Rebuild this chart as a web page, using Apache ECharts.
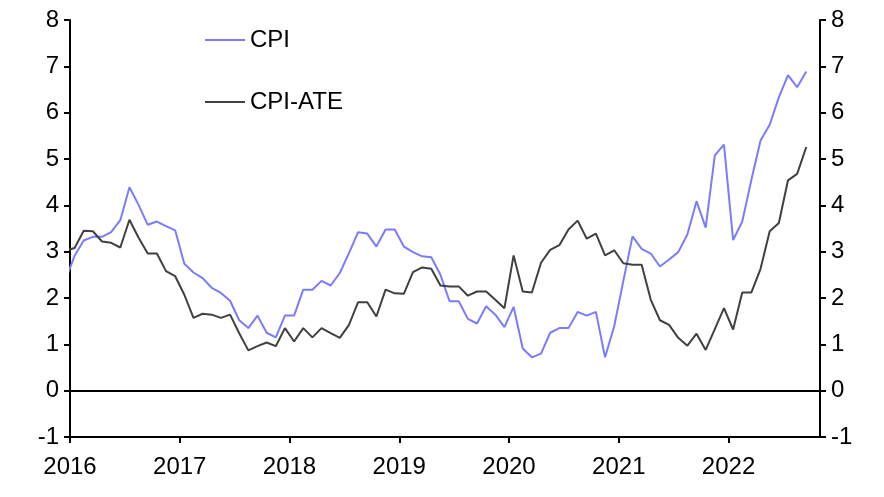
<!DOCTYPE html>
<html>
<head>
<meta charset="utf-8">
<script src="https://cdn.jsdelivr.net/npm/echarts@6/dist/echarts.min.js"></script>
<style>html,body{margin:0;padding:0;background:#fff;}#c{width:884px;height:497px;}</style>
</head>
<body>
<div id="c"></div>
<script>
// Monthly, starting Dec 2015 (clipped at the axis) through Sep 2022
const startYear = 2016;
const yearLabels = ['2016','2017','2018','2019','2020','2021','2022'];
const cpi = [
  2.39,
  2.91,3.24,3.32,3.32,3.42,3.68,4.39,4.01,3.58,3.65,3.55,3.46,
  2.74,2.55,2.43,2.22,2.11,1.94,1.52,1.35,1.62,1.25,1.15,1.62,
  1.62,2.18,2.18,2.37,2.27,2.54,2.97,3.42,3.39,3.11,3.48,3.48,
  3.11,2.99,2.90,2.88,2.50,1.93,1.93,1.55,1.45,1.82,1.64,1.37,
  1.81,0.91,0.72,0.80,1.25,1.35,1.35,1.70,1.62,1.70,0.72,1.39,
  2.37,3.33,3.06,2.96,2.68,2.83,2.99,3.37,4.09,3.52,5.08,5.31,
  3.25,3.65,4.55,5.40,5.74,6.33,6.81,6.55,6.89
];
const cpiAte = [
  3.02,
  3.08,3.45,3.44,3.22,3.19,3.09,3.69,3.30,2.96,2.96,2.58,2.47,
  2.07,1.57,1.66,1.64,1.57,1.64,1.24,0.87,0.96,1.04,0.96,1.35,
  1.06,1.35,1.15,1.35,1.24,1.14,1.42,1.91,1.91,1.60,2.18,2.10,
  2.09,2.56,2.66,2.63,2.27,2.25,2.25,2.05,2.14,2.14,1.96,1.78,
  2.92,2.14,2.12,2.76,3.04,3.14,3.48,3.67,3.28,3.39,2.92,3.03,
  2.75,2.72,2.72,1.96,1.52,1.42,1.14,0.97,1.23,0.88,1.33,1.78,
  1.32,2.12,2.12,2.63,3.44,3.62,4.54,4.68,5.26
];
const seriesNames = ['CPI','CPI-ATE'];

// x position = months since Jan 2016 start, plotted mid-month
const toPts = arr => arr.map((v, i) => [i - 1 + 0.5, v]);

const font = 'Liberation Sans, Arial, sans-serif';
const fs = 24;

const chart = echarts.init(document.getElementById('c'), null, {renderer: 'canvas'});
chart.setOption({
  animation: false,
  backgroundColor: '#fff',
  grid: {left: 70, right: 64, top: 20, bottom: 60, containLabel: false},
  legend: [
    {data: [seriesNames[0]], left: 205, top: 28, padding: 0, icon: 'rect', itemWidth: 40, itemHeight: 2, itemGap: 0,
     textStyle: {fontFamily: font, fontSize: fs, color: '#000'}, selectedMode: false},
    {data: [seriesNames[1]], left: 205, top: 90, padding: 0, icon: 'rect', itemWidth: 40, itemHeight: 2, itemGap: 0,
     textStyle: {fontFamily: font, fontSize: fs, color: '#000'}, selectedMode: false}
  ],
  xAxis: {
    type: 'value', min: 0, max: 82, interval: 12,
    axisLine: {show: true, onZero: false, lineStyle: {color: '#000', width: 2}},
    axisTick: {show: true, length: 6, inside: false, lineStyle: {color: '#000', width: 2}},
    splitLine: {show: false},
    axisLabel: {
      show: true, margin: 18, fontFamily: font, fontSize: fs, color: '#000', showMaxLabel: false,
      formatter: v => (v % 12 === 0 ? yearLabels[v / 12] || String(startYear + v / 12) : '')
    }
  },
  yAxis: [
    {type: 'value', min: -1, max: 8, interval: 1, position: 'left',
     axisLine: {show: true, lineStyle: {color: '#000', width: 2}},
     axisTick: {show: true, length: 6, lineStyle: {color: '#000', width: 2}},
     splitLine: {show: false},
     axisLabel: {margin: 11, fontFamily: font, fontSize: fs, color: '#000'}},
    {type: 'value', min: -1, max: 8, interval: 1, position: 'right',
     axisLine: {show: true, lineStyle: {color: '#000', width: 2}},
     axisTick: {show: true, length: 6, lineStyle: {color: '#000', width: 2}},
     splitLine: {show: false},
     axisLabel: {margin: 11, fontFamily: font, fontSize: fs, color: '#000'}}
  ],
  series: [
    {name: seriesNames[0], type: 'line', data: toPts(cpi), showSymbol: false, symbol: 'none', clip: true,
     lineStyle: {color: '#7b7bff', width: 2}, itemStyle: {color: '#7b7bff'}, z: 3,
     markLine: {silent: true, symbol: ['none','none'], label: {show: false},
       lineStyle: {color: '#000', width: 2, type: 'solid'}, data: [{yAxis: 0}]}},
    {name: seriesNames[1], type: 'line', data: toPts(cpiAte), showSymbol: false, symbol: 'none', clip: true,
     lineStyle: {color: '#404040', width: 2}, itemStyle: {color: '#404040'}, z: 4}
  ]
});
</script>
</body>
</html>
